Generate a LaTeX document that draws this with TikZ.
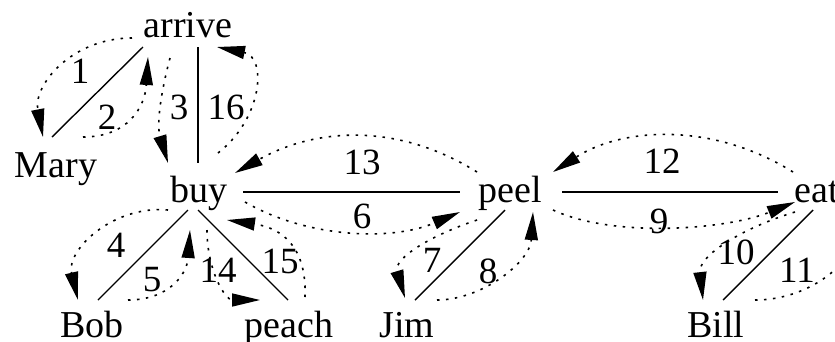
\documentclass[tikz,border=0pt]{standalone}
\usepackage{fontspec}
\setmainfont{Liberation Serif}
\usetikzlibrary{calc,arrows.meta}
\begin{document}
\begin{tikzpicture}[x=1pt,y=-1pt,
  word/.style={anchor=base, inner sep=0pt, font=\fontsize{38}{40}\selectfont},
  num/.style={inner sep=0pt, font=\fontsize{37}{40}\selectfont},
  tree/.style={line width=1.4pt},
  walk/.style={line width=1.6pt, dash pattern=on 2.5pt off 6.5pt, -{Triangle[length=28pt,width=13pt]}},
]
\useasboundingbox (0,0) rectangle (835,341);
\clip (0,0) rectangle (835,341);
% words
\node[word] (arrive) at (188,37) {arrive};
\node[word] (Mary) at (56,177) {Mary};
\node[word] (buy) at (199,202) {buy};
\node[word] (Bob) at (92,337) {Bob};
\node[word] (peach) at (289,337) {peach};
\node[word] (peel) at (510,202) {peel};
\node[word] (Jim) at (407,337) {Jim};
\node[word] (eat) at (817,202) {eat};
\node[word] (Bill) at (716,337) {Bill};
% tree edges
\draw[tree] ($(arrive.base)+(-45,10)$) -- ($(Mary.base)+(-4,-40)$);
\draw[tree] ($(arrive.base)+(10,10)$) -- ($(buy.base)+(-1,-39)$);
\draw[tree] ($(buy.base)+(44,-10)$) -- ($(peel.base)+(-50,-10)$);
\draw[tree] ($(buy.base)+(-11,8)$) -- ($(Bob.base)+(6,-37)$);
\draw[tree] ($(buy.base)+(-1,8)$) -- ($(peach.base)+(-1,-37)$);
\draw[tree] ($(peel.base)+(-5,8)$) -- ($(Jim.base)+(8,-37)$);
\draw[tree] ($(peel.base)+(52,-10)$) -- ($(eat.base)+(-39,-10)$);
\draw[tree] ($(eat.base)+(-4,8)$) -- ($(Bill.base)+(7,-37)$);
% walk arcs
\draw[walk] ($(arrive.base)+(-56,1)$) .. controls +(-60,0) and +(-10,-52) .. ($(Mary.base)+(-13,-40)$);
\draw[walk] ($(Mary.base)+(27,-40)$) .. controls +(45,0) and +(-3,50) .. ($(arrive.base)+(-40,20)$);
\draw[walk] ($(arrive.base)+(-18,21)$) .. controls +(-8,30) and +(-12,-40) .. ($(buy.base)+(-31,-39)$);
\draw[walk] ($(buy.base)+(19,-49)$) .. controls +(45,-35) and +(50,10) .. ($(arrive.base)+(29,10)$);
\draw[walk] ($(peel.base)+(-33,-30)$) .. controls +(-80,-50) and +(80,-45) .. ($(buy.base)+(36,-29)$);
\draw[walk] ($(buy.base)+(46,0)$) .. controls +(60,35) and +(-70,30) .. ($(peel.base)+(-50,10)$);
\draw[walk] ($(buy.base)+(-31,8)$) .. controls +(-55,-5) and +(-12,-50) .. ($(Bob.base)+(-14,-37)$);
\draw[walk] ($(Bob.base)+(36,-37)$) .. controls +(40,0) and +(-3,45) .. ($(buy.base)+(-9,28)$);
\draw[walk] ($(buy.base)+(8,28)$) .. controls +(0,40) and +(-35,0) .. ($(peach.base)+(-29,-37)$);
\draw[walk] ($(peach.base)+(16,-40)$) .. controls +(2,-50) and +(55,8) .. ($(buy.base)+(28,18)$);
\draw[walk] ($(peel.base)+(-33,18)$) .. controls +(-45,15) and +(-12,-40) .. ($(Jim.base)+(-2,-39)$);
\draw[walk] ($(Jim.base)+(30,-37)$) .. controls +(45,0) and +(-3,50) .. ($(peel.base)+(23,10)$);
\draw[walk] ($(peel.base)+(43,8)$) .. controls +(60,28) and +(-70,28) .. ($(eat.base)+(-22,0)$);
\draw[walk] ($(eat.base)+(-24,-30)$) .. controls +(-80,-50) and +(70,-45) .. ($(peel.base)+(43,-30)$);
\draw[walk] ($(eat.base)+(-22,10)$) .. controls +(-50,15) and +(-5,-45) .. ($(Bill.base)+(-13,-37)$);
\draw[walk] ($(Bill.base)+(39,-37)$) .. controls +(55,0) and +(-3,50) .. ($(eat.base)+(38,10)$);
% step numbers
\node[num] (n1) at (80,71) {1};
\node[num] (n2) at (107,117) {2};
\node[num] (n3) at (179,107) {3};
\node[num] (n16) at (226,107) {16};
\node[num] (n13) at (362,162) {13};
\node[num] (n6) at (362,216) {6};
\node[num] (n4) at (116,245) {4};
\node[num] (n5) at (152,280) {5};
\node[num] (n14) at (218,270) {14};
\node[num] (n15) at (280,261) {15};
\node[num] (n7) at (432,260) {7};
\node[num] (n8) at (488,271) {8};
\node[num] (n9) at (659,221) {9};
\node[num] (n12) at (662,161) {12};
\node[num] (n10) at (736,252) {10};
\node[num] (n11) at (797,270) {11};
\end{tikzpicture}
\end{document}
